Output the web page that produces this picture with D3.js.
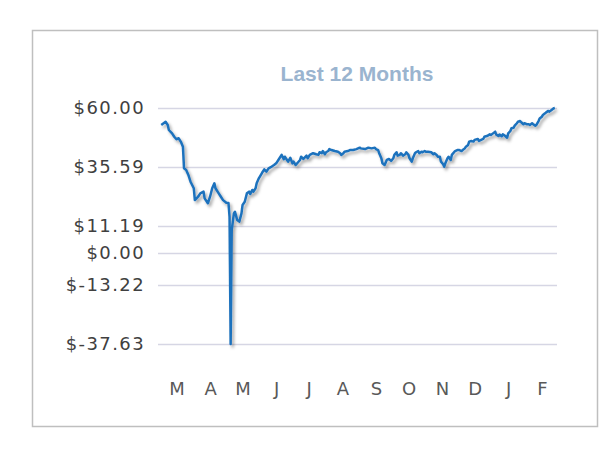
<!DOCTYPE html>
<html>
<head>
<meta charset="utf-8">
<script src="https://cdn.jsdelivr.net/npm/d3@7"></script>
<style>
  body { margin: 0; background: #fff; }
  .container { width: 606px; height: 451px; }
</style>
</head>
<body>
<div class="container"></div>
<script>
const w = 606
const h = 451

// dates and closing prices
const dates = [
  '2020-02-16','2020-02-20','2020-02-22','2020-02-23','2020-02-26','2020-02-28','2020-03-01','2020-03-03','2020-03-05','2020-03-07',
  '2020-03-08','2020-03-10','2020-03-12','2020-03-14','2020-03-17','2020-03-18','2020-03-21','2020-03-23','2020-03-26','2020-03-27',
  '2020-03-30','2020-04-01','2020-04-03','2020-04-05','2020-04-06','2020-04-09','2020-04-11','2020-04-13','2020-04-16','2020-04-18',
  '2020-04-19','2020-04-20','2020-04-21','2020-04-23','2020-04-24','2020-04-26','2020-04-28','2020-04-30','2020-05-01','2020-05-03',
  '2020-05-05','2020-05-07','2020-05-08','2020-05-10','2020-05-11','2020-05-13','2020-05-14','2020-05-16','2020-05-19','2020-05-21',
  '2020-05-23','2020-05-25','2020-05-27','2020-05-30','2020-06-01','2020-06-03','2020-06-06','2020-06-08','2020-06-09','2020-06-12',
  '2020-06-14','2020-06-16','2020-06-17','2020-06-19','2020-06-23','2020-06-24','2020-06-26','2020-06-27','2020-06-29','2020-06-30',
  '2020-07-02','2020-07-05','2020-07-08','2020-07-10','2020-07-11','2020-07-13','2020-07-14','2020-07-16','2020-07-17','2020-07-19',
  '2020-07-20','2020-07-22','2020-07-25','2020-07-28','2020-07-30','2020-07-31','2020-08-02','2020-08-03','2020-08-06','2020-08-08',
  '2020-08-11','2020-08-14','2020-08-17','2020-08-18','2020-08-22','2020-08-25','2020-08-28','2020-08-31','2020-09-01','2020-09-03',
  '2020-09-04','2020-09-06','2020-09-07','2020-09-09','2020-09-11','2020-09-13','2020-09-15','2020-09-17','2020-09-18','2020-09-20',
  '2020-09-21','2020-09-23','2020-09-24','2020-09-26','2020-09-28','2020-09-29','2020-10-01','2020-10-02','2020-10-04','2020-10-05',
  '2020-10-07','2020-10-08','2020-10-10','2020-10-11','2020-10-13','2020-10-14','2020-10-16','2020-10-17','2020-10-19','2020-10-22',
  '2020-10-24','2020-10-25','2020-10-27','2020-10-28','2020-10-30','2020-10-31','2020-11-02','2020-11-03','2020-11-04','2020-11-06',
  '2020-11-07','2020-11-09','2020-11-10','2020-11-13','2020-11-15','2020-11-17','2020-11-19','2020-11-20','2020-11-22','2020-11-23',
  '2020-11-25','2020-11-26','2020-11-28','2020-11-30','2020-12-01','2020-12-04','2020-12-05','2020-12-07','2020-12-09','2020-12-10',
  '2020-12-13','2020-12-15','2020-12-16','2020-12-18','2020-12-20','2020-12-21','2020-12-23','2020-12-24','2020-12-26','2020-12-27',
  '2020-12-29','2020-12-31','2021-01-01','2021-01-03','2021-01-04','2021-01-06','2021-01-07','2021-01-09','2021-01-10','2021-01-12',
  '2021-01-13','2021-01-15','2021-01-16','2021-01-18','2021-01-20','2021-01-21','2021-01-23','2021-01-24','2021-01-26','2021-01-27',
  '2021-01-29','2021-01-30','2021-02-01','2021-02-02','2021-02-04','2021-02-05','2021-02-07','2021-02-08','2021-02-10','2021-02-12',
  '2021-02-13'
]
const prices = [
  53.0, 54.3, 53.0, 50.9, 49.5, 48.1, 47.05, 47.5, 46.1, 44.0,
  35.05, 34.35, 32.3, 29.5, 26.8, 21.9, 23.3, 24.7, 25.4, 22.6,
  20.6, 23.3, 26.8, 28.85, 26.8, 24.7, 23.3, 21.9, 20.8, 20.7,
  15.0, -37.63, 9.5, 16.4, 17.1, 13.7, 13.0, 16.4, 19.9, 21.2,
  24.7, 25.4, 24.4, 26.1, 25.4, 26.8, 28.85, 30.9, 33.2, 34.6,
  33.65, 35.05, 35.5, 36.4, 37.1, 38.5, 40.6, 38.8, 39.85, 37.8,
  39.4, 37.1, 37.8, 36.4, 38.5, 39.85, 38.9, 39.4, 40.3, 39.2,
  40.6, 41.3, 40.85, 40.6, 41.7, 41.3, 42.2, 40.85, 41.7, 42.2,
  43.0, 42.6, 42.2, 41.9, 41.3, 40.6, 41.3, 41.9, 42.2, 42.6,
  42.6, 43.0, 43.6, 43.3, 43.0, 43.6, 43.3, 43.6, 43.0, 42.6,
  41.3, 39.2, 37.1, 36.4, 38.5, 38.9, 38.1, 39.2, 40.6, 41.7,
  40.3, 40.6, 41.3, 40.3, 40.85, 41.7, 40.6, 39.2, 37.8, 39.2,
  41.3, 41.7, 42.2, 41.3, 41.9, 41.7, 42.2, 41.9, 41.9, 41.7,
  40.85, 41.3, 40.6, 39.85, 39.85, 37.8, 36.7, 35.7, 37.1, 39.2,
  39.85, 38.5, 40.6, 42.2, 42.6, 42.6, 42.2, 42.6, 43.3, 44.0,
  44.7, 46.1, 46.35, 46.1, 46.8, 47.2, 46.35, 46.8, 47.2, 48.1,
  48.5, 49.1, 48.8, 49.5, 50.2, 49.0, 48.4, 49.0, 48.3, 49.1,
  48.5, 47.7, 49.5, 50.5, 51.6, 51.85, 52.7, 53.7, 54.3, 54.6,
  54.1, 53.3, 53.7, 53.3, 53.3, 53.0, 53.7, 53.3, 52.7, 53.0,
  54.6, 55.7, 56.4, 57.1, 57.8, 58.2, 58.8, 58.5, 59.2, 59.9,
  60.0
]

const yTicks = [60.00, 35.59, 11.19, 0.00, -13.22, -37.63]
const monthLabels = ['M', 'A', 'M', 'J', 'J', 'A', 'S', 'O', 'N', 'D', 'J', 'F']
const title = 'Last 12 Months'

const parse = d3.timeParse('%Y-%m-%d')
const data = dates.map((d, i) => ({ date: parse(d), value: prices[i] }))

const svg = d3.select('.container')
  .append('svg')
  .attr('width', w)
  .attr('height', h)

// drop shadow under the line
const filter = svg.append('defs').append('filter')
  .attr('id', 'shadow')
  .attr('x', '-10%').attr('y', '-10%')
  .attr('width', '130%').attr('height', '130%')
filter.append('feDropShadow')
  .attr('dx', 2).attr('dy', 2.5)
  .attr('stdDeviation', 1.5)
  .attr('flood-color', '#000')
  .attr('flood-opacity', 0.35)

// outer frame
svg.append('rect')
  .attr('x', 32.5).attr('y', 30.5)
  .attr('width', 565).attr('height', 396)
  .attr('fill', 'none')
  .attr('stroke', '#bfbfbf')
  .attr('stroke-width', 1.5)

const xScale = d3.scaleTime()
  .domain([parse('2020-02-13'), parse('2021-02-15')])
  .range([158, 557])

const yScale = d3.scaleLinear()
  .domain([d3.min(yTicks), d3.max(yTicks)])
  .range([344, 108])

// gridlines + y labels
const yAxis = d3.axisLeft(yScale)
  .tickValues(yTicks)
  .tickSize(-(557 - 158))
  .tickPadding(13)
  .tickFormat(d => '$' + d.toFixed(2))
const gy = svg.append('g')
  .attr('transform', 'translate(158, 0)')
  .call(yAxis)
gy.select('.domain').remove()
gy.selectAll('line').attr('stroke', '#d6d6e4').attr('stroke-width', 1.5)
gy.selectAll('text')
  .attr('fill', '#404040')
  .style('font-family', 'DejaVu Sans, Verdana, sans-serif')
  .style('font-size', '18px')
  .style('letter-spacing', '1.4px')

// month labels
const months = d3.timeMonth.range(parse('2020-03-01'), parse('2021-02-02'))
const xAxis = d3.axisBottom(xScale)
  .tickValues(months)
  .tickSize(0)
  .tickPadding(4)
  .tickFormat((d, i) => monthLabels[i])
const gx = svg.append('g')
  .attr('transform', 'translate(0, 378)')
  .call(xAxis)
gx.select('.domain').remove()
gx.selectAll('text')
  .attr('fill', '#595959')
  .style('font-family', 'DejaVu Sans, Verdana, sans-serif')
  .style('font-size', '18px')

// the price line
const line = d3.line()
  .x(d => xScale(d.date))
  .y(d => yScale(d.value))
svg.append('path')
  .datum(data)
  .attr('d', line)
  .attr('fill', 'none')
  .attr('stroke', '#1f72bd')
  .attr('stroke-width', 2.5)
  .attr('stroke-linejoin', 'round')
  .attr('filter', 'url(#shadow)')

svg.append('text')
  .text(title)
  .attr('x', 357)
  .attr('y', 81)
  .attr('text-anchor', 'middle')
  .attr('fill', '#9ab4cf')
  .style('font-family', 'Liberation Sans, Arial, sans-serif')
  .style('font-weight', 'bold')
  .style('font-size', '21px')
</script>
</body>
</html>
